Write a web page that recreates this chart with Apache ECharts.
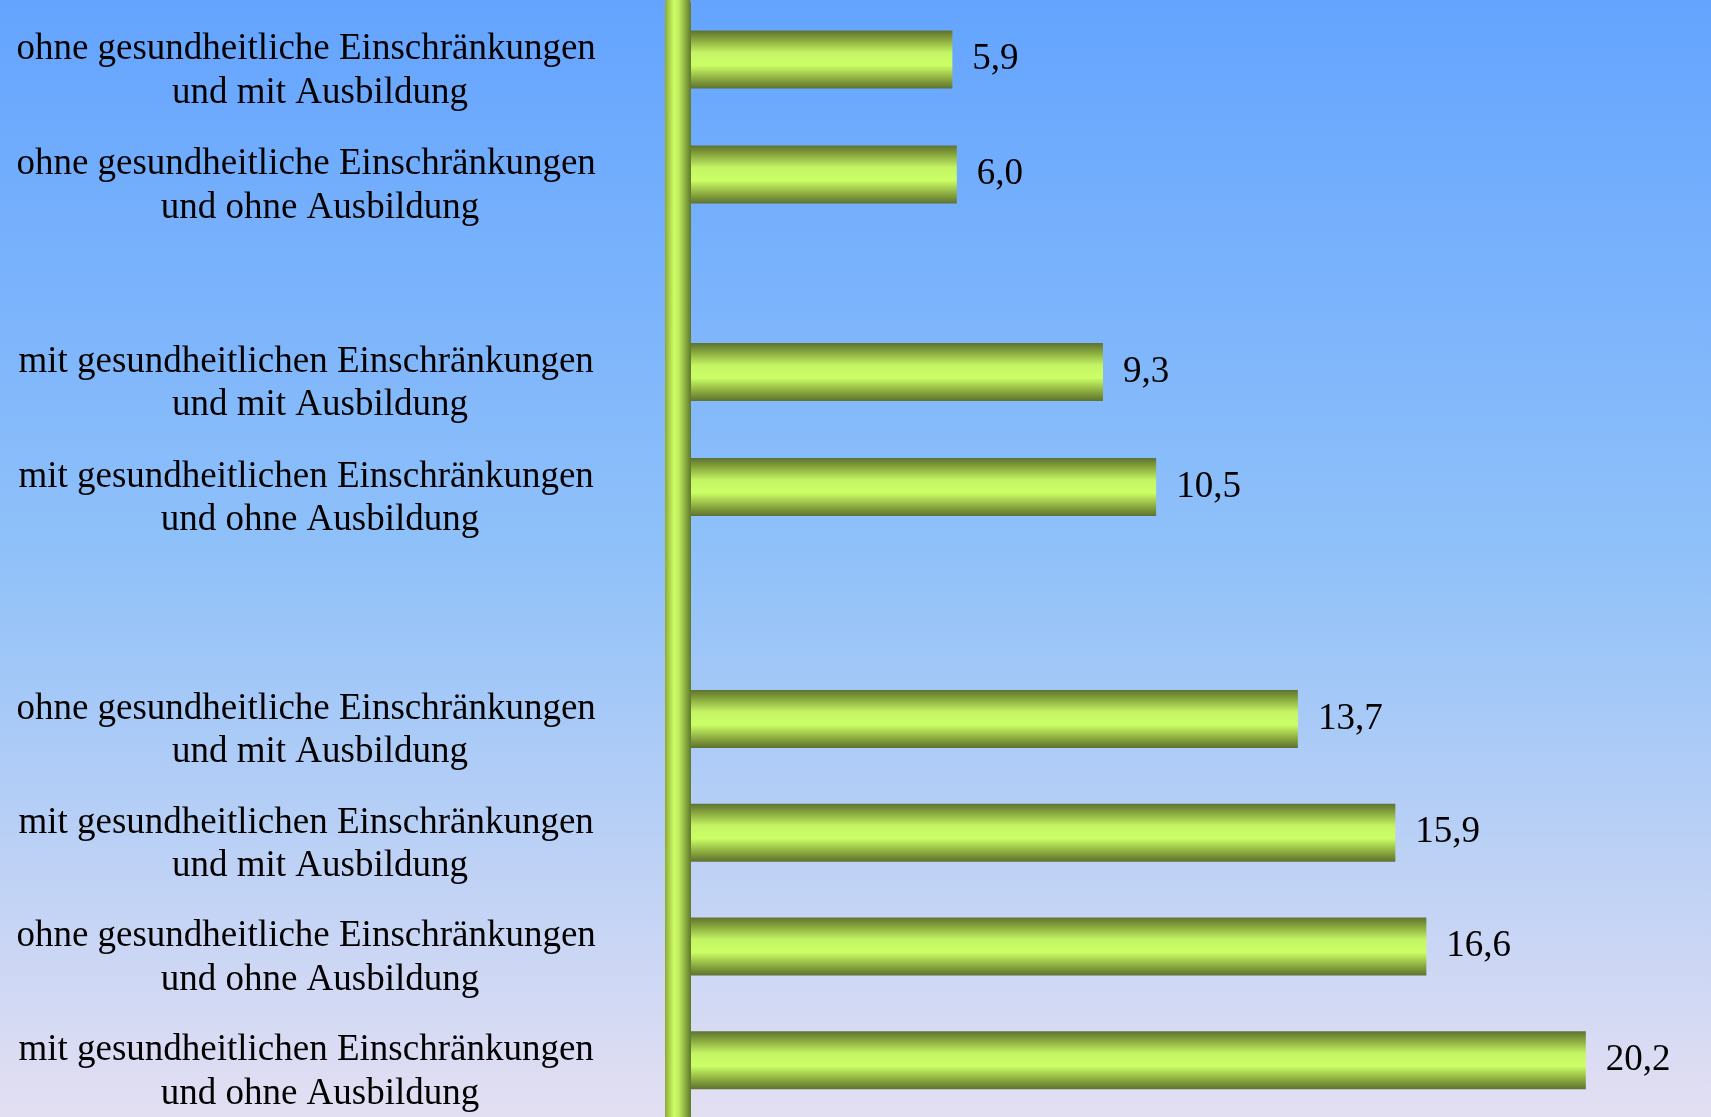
<!DOCTYPE html>
<html>
<head>
<meta charset="utf-8">
<script src="https://cdn.jsdelivr.net/npm/echarts@6/dist/echarts.min.js"></script>
<style>
  html, body { margin: 0; padding: 0; }
  #chart { width: 1711px; height: 1117px; }
</style>
</head>
<body>
<div id="chart"></div>
<script>
// Group 1
const group1Labels = [
  "ohne gesundheitliche Einschränkungen\nund mit Ausbildung",
  "ohne gesundheitliche Einschränkungen\nund ohne Ausbildung"
];
const group1Values = [5.9, 6.0];
// Group 2
const group2Labels = [
  "mit gesundheitlichen Einschränkungen\nund mit Ausbildung",
  "mit gesundheitlichen Einschränkungen\nund ohne Ausbildung"
];
const group2Values = [9.3, 10.5];
// Group 3
const group3Labels = [
  "ohne gesundheitliche Einschränkungen\nund mit Ausbildung",
  "mit gesundheitlichen Einschränkungen\nund mit Ausbildung",
  "ohne gesundheitliche Einschränkungen\nund ohne Ausbildung",
  "mit gesundheitlichen Einschränkungen\nund ohne Ausbildung"
];
const group3Values = [13.7, 15.9, 16.6, 20.2];

const FONT = "'Liberation Serif', 'Times New Roman', serif";
const xMax = 22.1;
const LEFT = 691;
const RIGHT = 41;

const barGradient = new echarts.graphic.LinearGradient(0, 0, 0, 1, [
  { offset: 0, color: '#5d7230' },
  { offset: 0.15, color: '#86a43c' },
  { offset: 0.38, color: '#c4f464' },
  { offset: 0.6, color: '#ccff66' },
  { offset: 0.85, color: '#87a53d' },
  { offset: 1, color: '#5d7230' }
]);
const poleGradient = new echarts.graphic.LinearGradient(0, 0, 1, 0, [
  { offset: 0, color: '#8fa938' },
  { offset: 0.35, color: '#ccff66' },
  { offset: 0.55, color: '#bce75c' },
  { offset: 1, color: '#5c782b' }
]);

function catFormatter(v) {
  const parts = v.split('\n');
  return '{s|}\n{t|' + parts[0] + '\u00a0\u00a0\u00a0}\n{t|' + parts[1] + '}';
}

const groups = [
  { labels: group1Labels, values: group1Values, top: 2, height: 230 },
  { labels: group2Labels, values: group2Values, top: 314.5, height: 230 },
  { labels: group3Labels, values: group3Values, top: 662, height: 460 }
];

const grid = [], xAxis = [], yAxis = [], series = [];
groups.forEach((g, i) => {
  grid.push({ left: LEFT, right: RIGHT, top: g.top, height: g.height });
  xAxis.push({ gridIndex: i, type: 'value', min: 0, max: xMax, show: false });
  yAxis.push({
    gridIndex: i, type: 'category', inverse: true, data: g.labels,
    axisLine: { show: false }, axisTick: { show: false }, splitLine: { show: false },
    axisLabel: {
      interval: 0, align: 'center', margin: 371,
      formatter: catFormatter,
      fontFamily: FONT, fontSize: 37, lineHeight: 43.5, color: '#000',
      rich: {
        s: { lineHeight: 24, fontSize: 10, fontFamily: FONT },
        t: { fontFamily: FONT, fontSize: 37, lineHeight: 43.5, color: '#000', align: 'center' }
      }
    }
  });
  series.push({
    type: 'bar', xAxisIndex: i, yAxisIndex: i, data: g.values,
    barWidth: 58,
    itemStyle: { color: barGradient },
    label: {
      show: true, position: 'right', distance: 20,
      fontFamily: FONT, fontSize: 37, color: '#000',
      formatter: p => p.value.toFixed(1).replace('.', ',')
    }
  });
});

// pole (vertical axis line)
grid.push({ left: LEFT, right: RIGHT, top: 5, bottom: 0 });
xAxis.push({ gridIndex: 3, type: 'value', min: 0, max: xMax, show: false });
yAxis.push({
  gridIndex: 3, type: 'value', min: 0, max: 1, offset: 13,
  axisLine: { show: true, onZero: false, lineStyle: { width: 26, color: poleGradient } },
  axisTick: { show: false }, axisLabel: { show: false }, splitLine: { show: false }
});

const chart = echarts.init(document.getElementById('chart'), null, { renderer: 'canvas' });
chart.setOption({
  animation: false,
  backgroundColor: new echarts.graphic.LinearGradient(0, 0, 0, 1, [
    { offset: 0, color: '#64a4ff' },
    { offset: 0.5, color: '#90c1f9' },
    { offset: 1, color: '#e3dff2' }
  ]),
  grid, xAxis, yAxis, series
});
</script>
</body>
</html>
